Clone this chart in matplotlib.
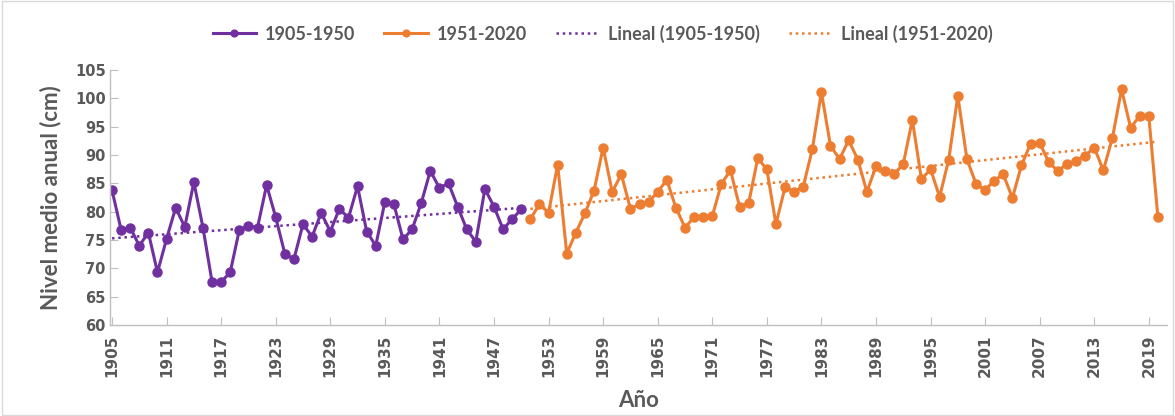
import matplotlib
matplotlib.use('Agg')
import matplotlib.pyplot as plt
import numpy as np
from matplotlib.patches import Rectangle

# Nivel medio anual (cm)
years_a = list(range(1905, 1951))
nivel_a = [83.8, 76.8, 77.2, 74.0, 76.3, 69.3, 75.2, 80.7, 77.3, 85.2,
           77.2, 67.6, 67.6, 69.3, 76.8, 77.5, 77.2, 84.7, 79.0, 72.6,
           71.6, 77.8, 75.6, 79.8, 76.5, 80.5, 78.9, 84.5, 76.5, 74.0,
           81.7, 81.3, 75.1, 76.9, 81.5, 87.2, 84.2, 85.0, 80.9, 76.9,
           74.7, 84.0, 80.9, 76.9, 78.7, 80.4]

years_b = list(range(1951, 2021))
nivel_b = [78.7, 81.3, 79.8, 88.3, 72.6, 76.3, 79.7, 83.7, 91.3, 83.5,
           86.6, 80.5, 81.3, 81.7, 83.5, 85.6, 80.7, 77.2, 79.0, 79.0,
           79.2, 84.9, 87.3, 80.9, 81.5, 89.4, 87.5, 77.8, 84.3, 83.5,
           84.4, 91.0, 101.1, 91.6, 89.3, 92.6, 89.2, 83.5, 88.0, 87.2,
           86.6, 88.4, 96.2, 85.7, 87.5, 82.6, 89.2, 100.4, 89.3, 84.9,
           83.8, 85.5, 86.6, 82.4, 88.2, 92.0, 92.2, 88.7, 87.2, 88.4,
           89.0, 89.9, 91.3, 87.3, 93.0, 101.6, 94.8, 96.9, 96.9, 79.0]

tick_years = list(range(1905, 2020, 6))

PURPLE = '#7030A0'
ORANGE = '#ED7D31'
GRAY = '#595959'
AXIS = '#BFBFBF'

fig = plt.figure(figsize=(11.75, 4.16), dpi=100)
ax = fig.add_axes([110 / 1175, 1 - 325 / 416, (1167 - 110) / 1175, (325 - 70) / 416])

ax.plot(years_a, nivel_a, color=PURPLE, lw=2.2, marker='o', ms=6.5, label='1905-1950')
ax.plot(years_b, nivel_b, color=ORANGE, lw=2.2, marker='o', ms=6.5, label='1951-2020')

# linear trends
xa = np.array(years_a)
ca = np.polyfit(xa, nivel_a, 1)
ax.plot(xa, np.polyval(ca, xa), color=PURPLE, lw=1.8, ls=(0, (1, 1.5)),
        label='Lineal (1905-1950)')
xb = np.array(years_b)
cb = np.polyfit(xb, nivel_b, 1)
ax.plot(xb, np.polyval(cb, xb), color=ORANGE, lw=1.8, ls=(0, (1, 1.5)),
        label='Lineal (1951-2020)')

ax.set_xlim(1904.78, 2021)
ax.set_ylim(60, 105)
ax.set_yticks(range(60, 106, 5))
ax.set_xticks(tick_years)
ax.set_xticklabels([str(y) for y in tick_years], rotation=90)

for s in ['top', 'right']:
    ax.spines[s].set_visible(False)
for s in ['left', 'bottom']:
    ax.spines[s].set_color(AXIS)
    ax.spines[s].set_linewidth(1)
ax.tick_params(axis='both', direction='in', length=6, color=AXIS,
               labelcolor=GRAY)
ax.tick_params(axis='x', labelsize=11, pad=7)
ax.tick_params(axis='y', labelsize=10.5, pad=3)
for lab in ax.get_xticklabels() + ax.get_yticklabels():
    lab.set_fontweight('bold')

ax.set_ylabel('Nivel medio anual (cm)', fontsize=16, fontweight='bold',
              color=GRAY, family='Lato', labelpad=10)
ax.set_xlabel('Año', fontsize=16, fontweight='bold', color=GRAY,
              family='Lato', labelpad=9)

fig.legend(loc='upper center', bbox_to_anchor=(0.513, 0.98), ncol=4,
           frameon=False, handlelength=2.4, handletextpad=0.5, columnspacing=1.6,
           prop={'family': 'Lato', 'weight': 'bold', 'size': 13},
           labelcolor=GRAY, markerscale=0.75)

fig.add_artist(Rectangle((0.002, 0.003), 0.996, 0.994, transform=fig.transFigure,
                         fill=False, edgecolor='#D9D9D9', lw=1))

fig.savefig('out.png', dpi=100, facecolor='white')
